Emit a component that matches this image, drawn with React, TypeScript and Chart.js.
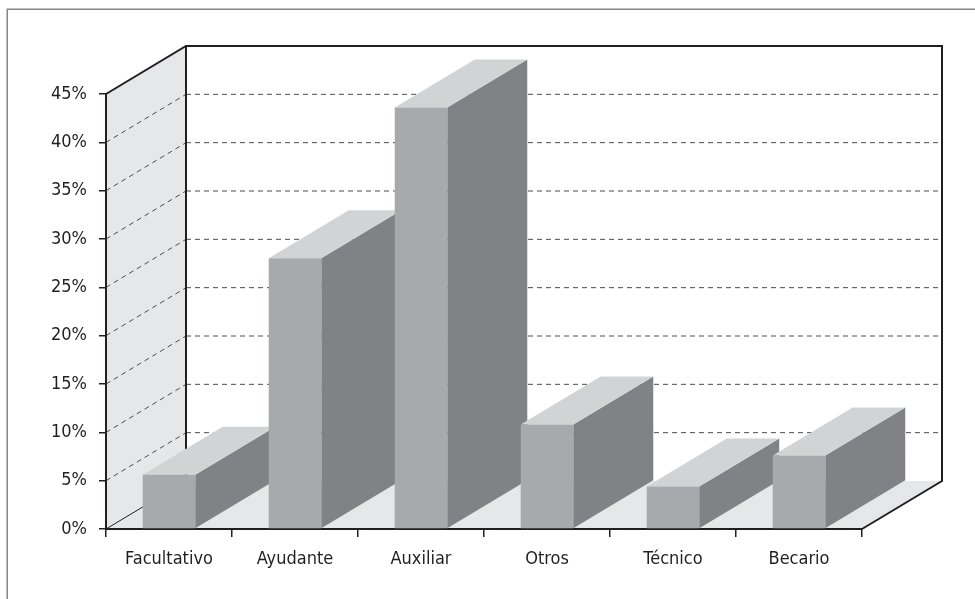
import { useEffect, useRef } from "react";
import { Chart, registerables } from "chart.js";

Chart.register(...registerables);

const categories = ["Facultativo", "Ayudante", "Auxiliar", "Otros", "Técnico", "Becario"];
const values = [5.6, 28.0, 43.6, 10.8, 4.4, 7.6];
const yMin = 0;
const yMax = 45;
const yStep = 5;

const DX = 80;
const DY = 48;
const INK = "#231f20";
const FONT = "'Liberation Sans Narrow', 'DejaVu Sans Condensed', 'Roboto', sans-serif";

function poly(ctx: CanvasRenderingContext2D, pts: number[][], fill: string) {
  ctx.beginPath();
  ctx.moveTo(pts[0][0], pts[0][1]);
  for (let i = 1; i < pts.length; i++) ctx.lineTo(pts[i][0], pts[i][1]);
  ctx.closePath();
  ctx.fillStyle = fill;
  ctx.fill();
}

function line(ctx: CanvasRenderingContext2D, pts: number[][]) {
  ctx.beginPath();
  ctx.moveTo(pts[0][0], pts[0][1]);
  for (let i = 1; i < pts.length; i++) ctx.lineTo(pts[i][0], pts[i][1]);
  ctx.stroke();
}

const threeD = {
  id: "threeD",
  beforeDraw(chart: any) {
    const { ctx, chartArea: a, scales } = chart;
    const y = scales.y;
    const L = a.left;
    const R = a.right;
    const T = y.getPixelForValue(yMax);
    const B = y.getPixelForValue(yMin);
    ctx.save();
    // outer frame
    ctx.strokeStyle = "#858585";
    ctx.lineWidth = 1.5;
    ctx.strokeRect(7.25, 9.25, 1000, 700);
    // side wall & floor
    poly(ctx, [[L, T], [L + DX, T - DY], [L + DX, B - DY], [L, B]], "#e6e7e8");
    poly(ctx, [[L, B], [L + DX, B - DY], [R + DX, B - DY], [R, B]], "#e6e7e8");
    // dashed grid
    ctx.setLineDash([5, 4]);
    ctx.strokeStyle = "#4d4d4f";
    ctx.lineWidth = 1;
    for (let v = yMin + yStep; v < yMax; v += yStep) {
      const py = y.getPixelForValue(v);
      line(ctx, [[L, py], [L + DX, py - DY]]);
      line(ctx, [[L + DX, py - DY], [R + DX, py - DY]]);
    }
    ctx.setLineDash([]);
    ctx.strokeStyle = INK;
    ctx.lineWidth = 1;
    line(ctx, [[L, B], [L + DX, B - DY]]);
    ctx.lineWidth = 2;
    line(ctx, [[L, T], [L + DX, T - DY], [R + DX, T - DY], [R + DX, B - DY], [R, B]]);
    line(ctx, [[L + DX, T - DY], [L + DX, B - DY]]);
    ctx.restore();
  },
  beforeDatasetsDraw(chart: any) {
    const { ctx } = chart;
    const meta = chart.getDatasetMeta(0);
    ctx.save();
    meta.data.forEach((bar: any) => {
      const { x, y, base, width } = bar.getProps(["x", "y", "base", "width"], true);
      const l = x - width / 2;
      const r = x + width / 2;
      poly(ctx, [[r, y], [r + DX, y - DY], [r + DX, base - DY], [r, base]], "#808285");
      poly(ctx, [[l, y], [l + DX, y - DY], [r + DX, y - DY], [r, y]], "#d1d3d4");
    });
    ctx.restore();
  },
};

export default function App() {
  const ref = useRef<HTMLCanvasElement>(null);
  useEffect(() => {
    if (!ref.current) return;
    const chart = new Chart(ref.current, {
      type: "bar",
      data: {
        labels: categories,
        datasets: [
          {
            data: values,
            backgroundColor: "#a7a9ac",
            borderWidth: 0,
            categoryPercentage: 1,
            barPercentage: 0.417,
          },
        ],
      },
      options: {
        animation: false,
        responsive: true,
        maintainAspectRatio: false,
        layout: { padding: { top: 94, right: 113, left: 0, bottom: 0 } },
        plugins: { legend: { display: false }, tooltip: { enabled: false } },
        scales: {
          x: {
            z: 1,
            grid: { offset: true, drawOnChartArea: false, drawTicks: true, tickLength: 8, color: INK, lineWidth: 1.5 },
            border: { display: true, color: INK, width: 2 },
            ticks: { color: INK, font: { family: FONT, size: 18 }, padding: 12, maxRotation: 0 },
            afterFit: (s: any) => { s.height = 70; },
          },
          y: {
            min: yMin,
            max: yMax,
            z: 1,
            grid: { drawOnChartArea: false, drawTicks: true, tickLength: 7, color: INK, lineWidth: 1.5 },
            border: { display: true, color: INK, width: 2 },
            ticks: {
              stepSize: yStep,
              color: INK,
              font: { family: FONT, size: 18 },
              padding: 12,
              callback: (v: any) => v + "%",
            },
            afterFit: (s: any) => { s.width = 106; },
          },
        },
      },
      plugins: [threeD],
    });
    return () => chart.destroy();
  }, []);
  return (
    <div style={{ position: "absolute", left: 0, top: 0, width: 975, height: 599, background: "#fff" }}>
      <canvas ref={ref} />
    </div>
  );
}
